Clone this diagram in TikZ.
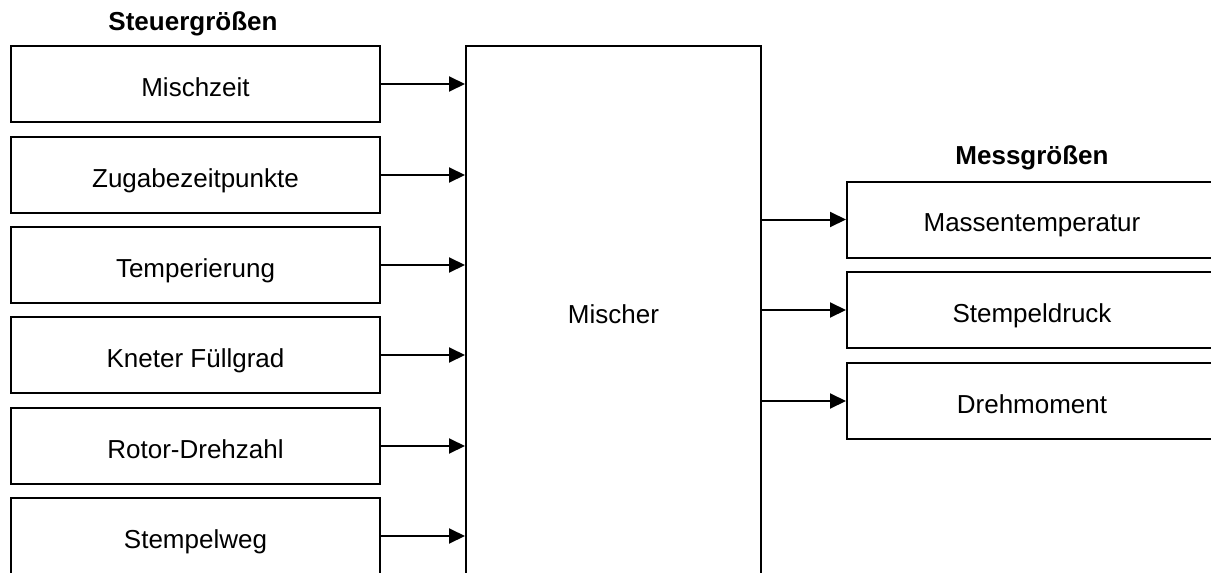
\documentclass[tikz,border=0pt]{standalone}
\usepackage{fontspec}
\setmainfont{Liberation Sans}
\usetikzlibrary{arrows.meta}
\begin{document}
\begin{tikzpicture}[x=1pt,y=-1pt,
  box/.style={draw, line width=2pt, minimum width=369pt, minimum height=76pt, inner sep=0pt,
    font=\fontsize{26}{30}\selectfont, text depth=0pt, text height=24pt},
  hdr/.style={font=\fontsize{26}{30}\selectfont\bfseries, inner sep=0pt},
  arr/.style={line width=2pt, -{Triangle[length=16pt,width=15pt]}}]
\useasboundingbox (0,0) rectangle (1211,573);
\clip (0,0) rectangle (1211,573);
\node[hdr] (h1) at (193,24) {Steuergrößen};
\node[hdr] (h2) at (1032,158) {Messgrößen};
\node[box] (l1) at (195.5,84) {Mischzeit};
\node[box] (l2) at (195.5,175) {Zugabezeitpunkte};
\node[box] (l3) at (195.5,265) {Temperierung};
\node[box] (l4) at (195.5,355) {Kneter Füllgrad};
\node[box] (l5) at (195.5,446) {Rotor-Drehzahl};
\node[box] (l6) at (195.5,536) {Stempelweg};
\node[box, minimum width=295pt, minimum height=530pt] (m) at (613.5,311) {Mischer};
\node[box, minimum width=370pt] (r1) at (1032,219.5) {Massentemperatur};
\node[box, minimum width=370pt] (r2) at (1032,310) {Stempeldruck};
\node[box, minimum width=370pt] (r3) at (1032,401) {Drehmoment};
\foreach \i in {1,...,6} {
  \draw[arr] (l\i.east) -- (l\i.east -| m.west);
}
\foreach \i in {1,2,3} {
  \draw[arr] (r\i.west -| m.east) -- (r\i.west);
}
\end{tikzpicture}
\end{document}
